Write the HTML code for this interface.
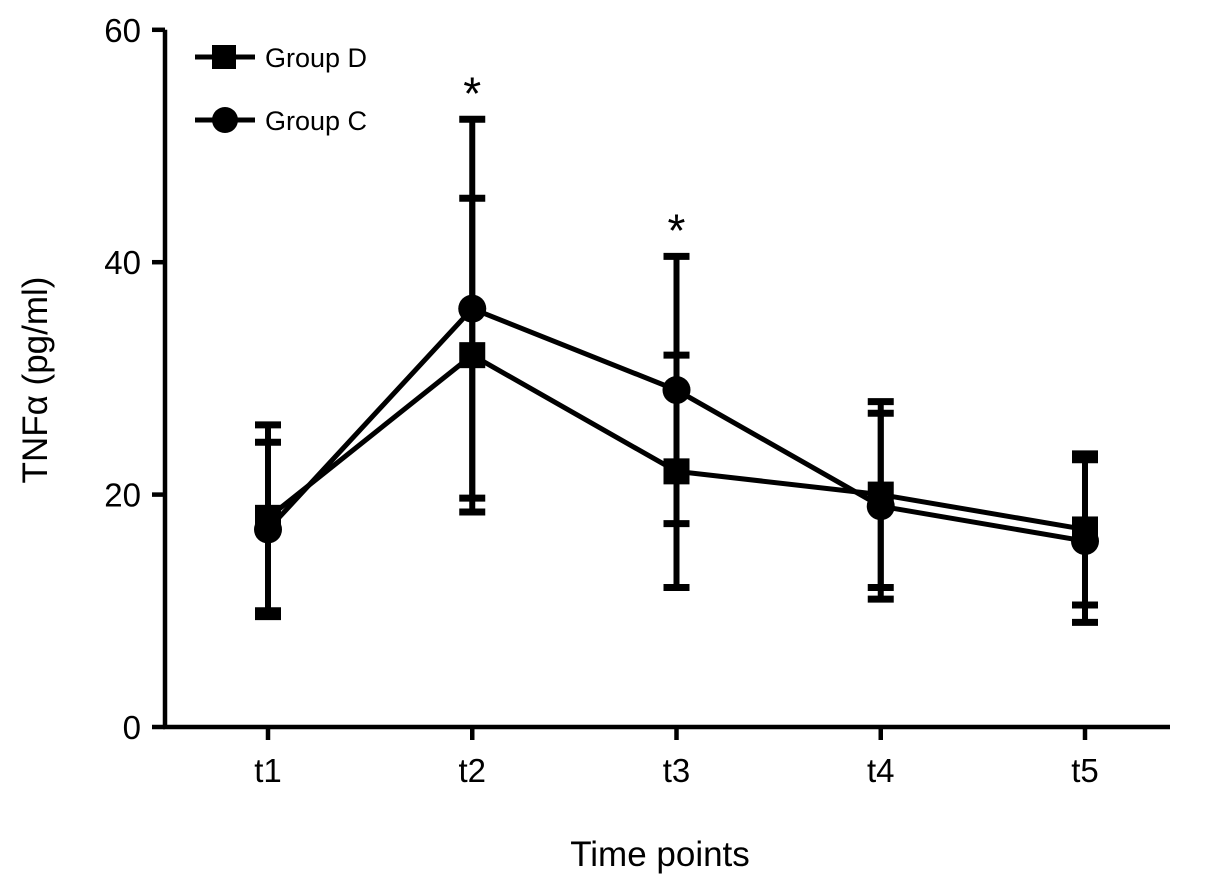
<!DOCTYPE html>
<html><head><meta charset="utf-8"><style>
html,body{margin:0;padding:0;background:#fff;}
svg{display:block;font-family:"Liberation Sans",Arial,sans-serif;}
</style></head><body>
<svg id="chart" width="1205" height="886" viewBox="0 0 1205 886">
<g id="axes"></g>
<g id="marks"></g>
<g id="legend"></g>
</svg>
<script>
const categories = ["t1","t2","t3","t4","t5"];
const groupD = [18, 32, 22, 20, 17];
const groupDErr = [8, 13.5, 10, 8, 6.5];
const groupC = [17, 36, 29, 19, 16];
const groupCErr = [7.5, 16.3, 11.5, 8, 7];
const yTicks = [0, 20, 40, 60];
const significant = ["t2","t3"];

const NS = "http://www.w3.org/2000/svg";
const X0 = 268, XSTEP = 204.25;
function xPos(i){ return X0 + i*XSTEP; }
function yPos(v){ return 727 - v*11.62; }
function mk(tag, attrs, parent){
  const e = document.createElementNS(NS, tag);
  for (const k in attrs) e.setAttribute(k, attrs[k]);
  parent.appendChild(e); return e;
}
const axes = document.getElementById('axes');
const marks = document.getElementById('marks');
const legend = document.getElementById('legend');

let a = mk('line',{x1:165,y1:yPos(60),x2:165,y2:729,stroke:'#000','stroke-width':4.5},axes);
 
a = mk('line',{x1:163,y1:727,x2:1170,y2:727,stroke:'#000','stroke-width':4.5},axes);
 
yTicks.forEach(v=>{
  const t = mk('line',{x1:152,y1:yPos(v),x2:165,y2:yPos(v),stroke:'#000','stroke-width':4.5},axes);
   
  const l = mk('text',{x:141,y:yPos(v)+12,'text-anchor':'end','font-size':33},axes);
  l.textContent = v;
   
});
categories.forEach((c,i)=>{
  const t = mk('line',{x1:xPos(i),y1:727,x2:xPos(i),y2:740,stroke:'#000','stroke-width':4.5},axes);
   
  const l = mk('text',{x:xPos(i),y:782,'text-anchor':'middle','font-size':33},axes);
  l.textContent = c;
   
});
let t = mk('text',{x:660,y:866,'text-anchor':'middle','font-size':35},axes);
t.textContent = 'Time points';
 
t = mk('text',{x:0,y:0,'text-anchor':'middle','font-size':35,transform:'translate(47,380) rotate(-90)'},axes);
t.textContent = 'TNF\u03B1 (pg/ml)';
 

function drawSeries(vals, errs, shape, name){
  vals.forEach((v,i)=>{
    const x = xPos(i);
    const hi = yPos(v+errs[i]), lo = yPos(v-errs[i]);
    const g = mk('g',{},marks);
     
    mk('line',{x1:x,y1:hi,x2:x,y2:lo,stroke:'#000','stroke-width':6},g);
    mk('line',{x1:x-13,y1:hi,x2:x+13,y2:hi,stroke:'#000','stroke-width':7},g);
    mk('line',{x1:x-13,y1:lo,x2:x+13,y2:lo,stroke:'#000','stroke-width':7},g);
  });
  const pts = vals.map((v,i)=>xPos(i)+','+yPos(v)).join(' ');
  const pl = mk('polyline',{points:pts,fill:'none',stroke:'#000','stroke-width':5},marks);
   
  vals.forEach((v,i)=>{
    let m;
    if (shape==='square') m = mk('rect',{x:xPos(i)-13,y:yPos(v)-13,width:26,height:26,fill:'#000'},marks);
    else m = mk('circle',{cx:xPos(i),cy:yPos(v),r:14,fill:'#000'},marks);
     
  });
}
drawSeries(groupD, groupDErr, 'square', 'group-d');
drawSeries(groupC, groupCErr, 'circle', 'group-c');

significant.forEach(c=>{
  const i = categories.indexOf(c);
  const top = Math.max(groupD[i]+groupDErr[i], groupC[i]+groupCErr[i]);
  const s = mk('text',{x:xPos(i),y:yPos(top)-10,'text-anchor':'middle','font-size':46},marks);
  s.textContent = '*';
   
});

[['square','Group D',57,'legend-group-d'],['circle','Group C',120,'legend-group-c']].forEach(([sh,lab,y,n])=>{
  const g = mk('g',{},legend);
   
  mk('line',{x1:195,y1:y,x2:255,y2:y,stroke:'#000','stroke-width':5},g);
  if (sh==='square') mk('rect',{x:212,y:y-12,width:24,height:24,fill:'#000'},g);
  else mk('circle',{cx:225,cy:y,r:13,fill:'#000'},g);
  const tx = mk('text',{x:265,y:y+10,'font-size':27},g);
  tx.textContent = lab;
});
</script>
</body></html>
